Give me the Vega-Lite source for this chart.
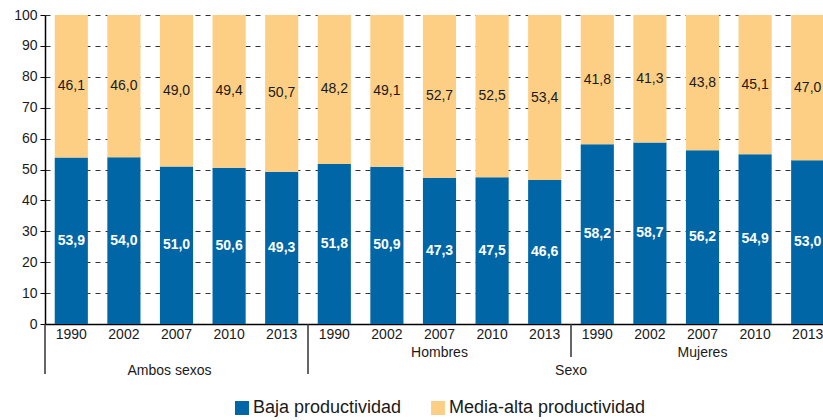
{
  "$schema": "https://vega.github.io/schema/vega-lite/v6.json",
  "autosize": "none",
  "width": 778,
  "height": 309,
  "padding": {"left": 45, "top": 15, "right": 0, "bottom": 96},
  "config": {
    "locale": {"number": {"decimal": ",", "thousands": ".", "grouping": [3], "currency": ["", " €"]}},
    "font": "Liberation Sans",
    "view": {"stroke": null},
    "text": {"font": "Liberation Sans", "fontSize": 14, "color": "#1a1a1a"},
    "axisY": {
      "title": null,
      "tickCount": 10,
      "labelFontSize": 14,
      "labelColor": "#1a1a1a",
      "labelFont": "Liberation Sans",
      "labelPadding": 3,
      "tickSize": 5,
      "tickColor": "#000000",
      "domainColor": "#000000",
      "domainWidth": 1.5,
      "grid": true,
      "gridColor": "#333333",
      "gridDash": [5, 5],
      "gridWidth": 1.2,
      "labelOverlap": false
    }
  },
  "datasets": {
    "bars": [
      {"grupo": "Ambos sexos", "anio": "1990", "key": "Ambos sexos 1990", "cat": "Baja productividad", "value": 53.9},
      {"grupo": "Ambos sexos", "anio": "1990", "key": "Ambos sexos 1990", "cat": "Media-alta productividad", "value": 46.1},
      {"grupo": "Ambos sexos", "anio": "2002", "key": "Ambos sexos 2002", "cat": "Baja productividad", "value": 54.0},
      {"grupo": "Ambos sexos", "anio": "2002", "key": "Ambos sexos 2002", "cat": "Media-alta productividad", "value": 46.0},
      {"grupo": "Ambos sexos", "anio": "2007", "key": "Ambos sexos 2007", "cat": "Baja productividad", "value": 51.0},
      {"grupo": "Ambos sexos", "anio": "2007", "key": "Ambos sexos 2007", "cat": "Media-alta productividad", "value": 49.0},
      {"grupo": "Ambos sexos", "anio": "2010", "key": "Ambos sexos 2010", "cat": "Baja productividad", "value": 50.6},
      {"grupo": "Ambos sexos", "anio": "2010", "key": "Ambos sexos 2010", "cat": "Media-alta productividad", "value": 49.4},
      {"grupo": "Ambos sexos", "anio": "2013", "key": "Ambos sexos 2013", "cat": "Baja productividad", "value": 49.3},
      {"grupo": "Ambos sexos", "anio": "2013", "key": "Ambos sexos 2013", "cat": "Media-alta productividad", "value": 50.7},
      {"grupo": "Hombres", "anio": "1990", "key": "Hombres 1990", "cat": "Baja productividad", "value": 51.8},
      {"grupo": "Hombres", "anio": "1990", "key": "Hombres 1990", "cat": "Media-alta productividad", "value": 48.2},
      {"grupo": "Hombres", "anio": "2002", "key": "Hombres 2002", "cat": "Baja productividad", "value": 50.9},
      {"grupo": "Hombres", "anio": "2002", "key": "Hombres 2002", "cat": "Media-alta productividad", "value": 49.1},
      {"grupo": "Hombres", "anio": "2007", "key": "Hombres 2007", "cat": "Baja productividad", "value": 47.3},
      {"grupo": "Hombres", "anio": "2007", "key": "Hombres 2007", "cat": "Media-alta productividad", "value": 52.7},
      {"grupo": "Hombres", "anio": "2010", "key": "Hombres 2010", "cat": "Baja productividad", "value": 47.5},
      {"grupo": "Hombres", "anio": "2010", "key": "Hombres 2010", "cat": "Media-alta productividad", "value": 52.5},
      {"grupo": "Hombres", "anio": "2013", "key": "Hombres 2013", "cat": "Baja productividad", "value": 46.6},
      {"grupo": "Hombres", "anio": "2013", "key": "Hombres 2013", "cat": "Media-alta productividad", "value": 53.4},
      {"grupo": "Mujeres", "anio": "1990", "key": "Mujeres 1990", "cat": "Baja productividad", "value": 58.2},
      {"grupo": "Mujeres", "anio": "1990", "key": "Mujeres 1990", "cat": "Media-alta productividad", "value": 41.8},
      {"grupo": "Mujeres", "anio": "2002", "key": "Mujeres 2002", "cat": "Baja productividad", "value": 58.7},
      {"grupo": "Mujeres", "anio": "2002", "key": "Mujeres 2002", "cat": "Media-alta productividad", "value": 41.3},
      {"grupo": "Mujeres", "anio": "2007", "key": "Mujeres 2007", "cat": "Baja productividad", "value": 56.2},
      {"grupo": "Mujeres", "anio": "2007", "key": "Mujeres 2007", "cat": "Media-alta productividad", "value": 43.8},
      {"grupo": "Mujeres", "anio": "2010", "key": "Mujeres 2010", "cat": "Baja productividad", "value": 54.9},
      {"grupo": "Mujeres", "anio": "2010", "key": "Mujeres 2010", "cat": "Media-alta productividad", "value": 45.1},
      {"grupo": "Mujeres", "anio": "2013", "key": "Mujeres 2013", "cat": "Baja productividad", "value": 53.0},
      {"grupo": "Mujeres", "anio": "2013", "key": "Mujeres 2013", "cat": "Media-alta productividad", "value": 47.0}
    ]
  },
  "encoding": {
    "x": {
      "field": "key",
      "type": "nominal",
      "sort": null,
      "scale": {
        "domain": ["Ambos sexos 1990", "Ambos sexos 2002", "Ambos sexos 2007", "Ambos sexos 2010", "Ambos sexos 2013", "Hombres 1990", "Hombres 2002", "Hombres 2007", "Hombres 2010", "Hombres 2013", "Mujeres 1990", "Mujeres 2002", "Mujeres 2007", "Mujeres 2010", "Mujeres 2013"],
        "range": [0, 789],
        "paddingInner": 0.37,
        "paddingOuter": 0.185
      },
      "axis": {
        "title": null,
        "labelExpr": "slice(datum.label, -4)",
        "labelAngle": 0,
        "labelFontSize": 14,
        "labelColor": "#1a1a1a",
        "labelFont": "Liberation Sans",
        "labelPadding": 3,
        "ticks": false,
        "domainColor": "#000000",
        "domainWidth": 1.5,
        "grid": false
      }
    }
  },
  "layer": [
    {
      "data": {"name": "bars"},
      "transform": [
        {"stack": "value", "groupby": ["key"], "sort": [{"field": "cat", "order": "ascending"}], "as": ["v0", "v1"]},
        {"calculate": "(datum.v0 + datum.v1) / 2", "as": "mid"}
      ],
      "layer": [
        {
          "mark": {"type": "bar"},
          "encoding": {
            "y": {
              "field": "v0",
              "type": "quantitative",
              "title": null,
              "scale": {"domain": [0, 100], "nice": false, "zero": true}
            },
            "y2": {"field": "v1"},
            "color": {
              "field": "cat",
              "type": "nominal",
              "scale": {"domain": ["Baja productividad", "Media-alta productividad"], "range": ["#0066A6", "#FDCF84"]},
              "legend": {
                "orient": "none",
                "legendX": 188,
                "legendY": 384,
                "direction": "horizontal",
                "title": null,
                "symbolType": "square",
                "symbolSize": 196,
                "symbolStrokeWidth": 0,
                "labelFontSize": 18,
                "labelFont": "Liberation Sans",
                "labelColor": "#1a1a1a",
                "labelLimit": 400,
                "columnPadding": 27,
                "labelOffset": 2
              }
            }
          }
        },
        {
          "transform": [{"filter": "datum.cat == 'Baja productividad'"}],
          "mark": {"type": "text", "fontWeight": "bold", "color": "#ffffff", "baseline": "middle"},
          "encoding": {
            "y": {"field": "mid", "type": "quantitative", "title": null},
            "text": {"field": "value", "type": "quantitative", "format": ".1f"}
          }
        },
        {
          "transform": [{"filter": "datum.cat != 'Baja productividad'"}],
          "mark": {"type": "text", "color": "#1a1a1a", "baseline": "middle"},
          "encoding": {
            "y": {"field": "mid", "type": "quantitative", "title": null},
            "text": {"field": "value", "type": "quantitative", "format": ".1f"}
          }
        }
      ]
    },
    {
      "data": {"values": [{"key": "Ambos sexos 1990"}, {"key": "Hombres 1990"}]},
      "mark": {"type": "rule", "color": "#333333", "strokeWidth": 1.5},
      "encoding": {
        "x": {"field": "key", "type": "nominal", "bandPosition": -0.2937},
        "y": {"datum": 0},
        "y2": {"datum": -16.2}
      }
    },
    {
      "data": {"values": [{"key": "Mujeres 1990"}]},
      "mark": {"type": "rule", "color": "#333333", "strokeWidth": 1.5},
      "encoding": {
        "x": {"field": "key", "type": "nominal", "bandPosition": -0.2937},
        "y": {"datum": 0},
        "y2": {"datum": -10.7}
      }
    },
    {
      "data": {"values": [{"key": "Hombres 2007", "label": "Hombres"}, {"key": "Mujeres 2007", "label": "Mujeres"}]},
      "mark": {"type": "text", "baseline": "alphabetic", "align": "center"},
      "encoding": {
        "x": {"field": "key", "type": "nominal"},
        "y": {"datum": -10.7},
        "text": {"field": "label"}
      }
    },
    {
      "data": {"values": [{"key": "Ambos sexos 2007", "label": "Ambos sexos"}]},
      "mark": {"type": "text", "baseline": "alphabetic", "align": "center", "dx": -7},
      "encoding": {
        "x": {"field": "key", "type": "nominal"},
        "y": {"datum": -16.5},
        "text": {"field": "label"}
      }
    },
    {
      "data": {"values": [{"key": "Mujeres 1990", "label": "Sexo"}]},
      "mark": {"type": "text", "baseline": "alphabetic", "align": "center"},
      "encoding": {
        "x": {"field": "key", "type": "nominal", "bandPosition": -0.2937},
        "y": {"datum": -16.5},
        "text": {"field": "label"}
      }
    }
  ]
}
